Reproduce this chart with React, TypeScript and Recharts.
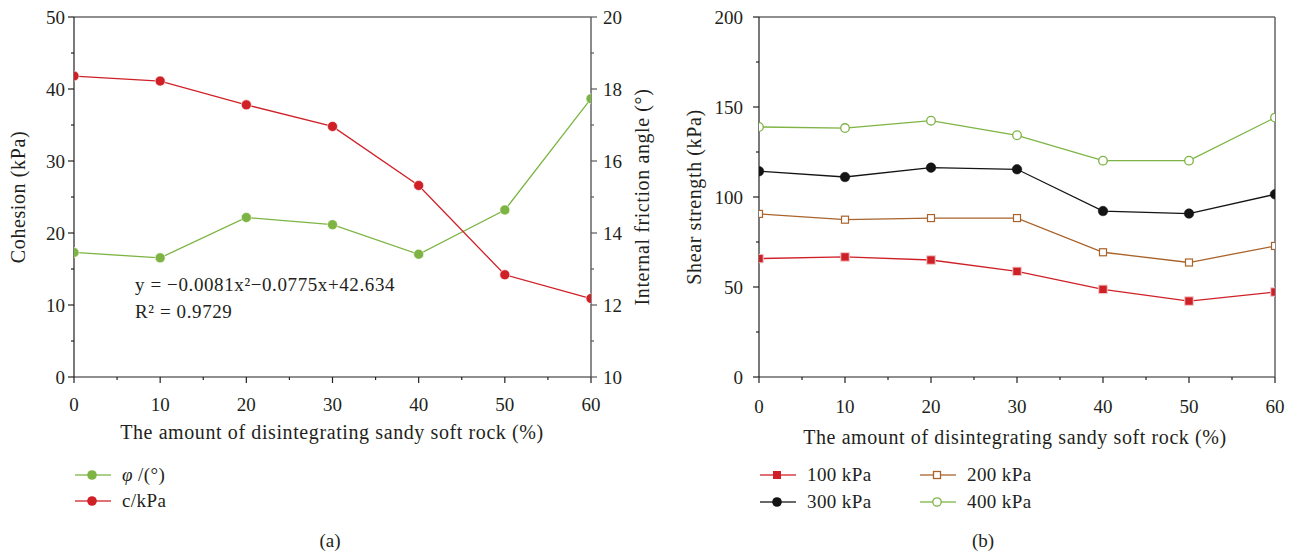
import type { ReactNode } from "react";
import { LineChart, Line, XAxis, YAxis } from "recharts";

// x values: amount of disintegrating sandy soft rock (%)
const AMOUNT = [0, 10, 20, 30, 40, 50, 60];

// (a) cohesion (kPa) and internal friction angle (°)
const COHESION = [41.8, 41.1, 37.8, 34.8, 26.6, 14.2, 10.9];
const FRICTION = [13.46, 13.31, 14.43, 14.23, 13.41, 14.64, 17.73];

// (b) shear strength (kPa) under four normal stresses
const S100 = [65.8, 66.7, 65.0, 58.7, 48.7, 42.2, 47.2];
const S200 = [90.6, 87.4, 88.3, 88.3, 69.3, 63.6, 72.8];
const S300 = [114.3, 111.1, 116.3, 115.4, 92.2, 90.8, 101.5];
const S400 = [138.9, 138.3, 142.4, 134.3, 120.2, 120.2, 144.1];

// ticks (majors get labels, minors only a short line)
const X_TICKS = [0, 5, 10, 15, 20, 25, 30, 35, 40, 45, 50, 55, 60];
const COHESION_TICKS = [0, 5, 10, 15, 20, 25, 30, 35, 40, 45, 50];
const FRICTION_TICKS = [10, 11, 12, 13, 14, 15, 16, 17, 18, 19, 20];
const SHEAR_TICKS = [0, 25, 50, 75, 100, 125, 150, 175, 200];

const FONT = "Liberation Serif, Times New Roman, DejaVu Serif, serif";
const INK = "#231f20";
const GRAY = "#58595b";
const RED = "#cf2027";
const GREEN = "#7db443";
const BROWN = "#a9632b";
const BLACK = "#141414";

// plot areas (chart-relative), used to clip markers at the frame like the original
const CLIP_A = { x: 74, y: 17, w: 517, h: 360 };
const CLIP_B = { x: 79, y: 17, w: 516, h: 360 };

const leftData = AMOUNT.map((x, i) => ({ x, c: COHESION[i], phi: FRICTION[i] }));
const rightData = AMOUNT.map((x, i) => ({
  x,
  p100: S100[i],
  p200: S200[i],
  p300: S300[i],
  p400: S400[i],
}));

type TickProps = {
  x?: number;
  y?: number;
  payload?: { value: number };
  every: number;
  gap: number;
  color?: string;
};

function BottomTick({ x = 0, y = 0, payload, every, gap, color = INK }: TickProps) {
  const v = payload?.value ?? 0;
  const major = v % every === 0;
  return (
    <g>
      <line x1={x} x2={x} y1={y} y2={y + (major ? 6 : 3)} stroke={color} strokeWidth={1.2} />
      {major && (
        <text x={x} y={y + gap} textAnchor="middle" dominantBaseline="central" fontFamily={FONT} fontSize={19} fill={INK}>
          {v}
        </text>
      )}
    </g>
  );
}

function LeftTick({ x = 0, y = 0, payload, every, gap, color = INK }: TickProps) {
  const v = payload?.value ?? 0;
  const major = v % every === 0;
  return (
    <g>
      <line x1={x - (major ? 6 : 3)} x2={x} y1={y} y2={y} stroke={color} strokeWidth={1.2} />
      {major && (
        <text x={x - gap} y={y} textAnchor="end" dominantBaseline="central" fontFamily={FONT} fontSize={19} fill={INK}>
          {v}
        </text>
      )}
    </g>
  );
}

function RightTick({ x = 0, y = 0, payload, every, gap, color = GRAY }: TickProps) {
  const v = payload?.value ?? 0;
  const major = v % every === 0;
  return (
    <g>
      <line x1={x} x2={x + (major ? 6 : 3)} y1={y} y2={y} stroke={color} strokeWidth={1.2} />
      {major && (
        <text x={x + gap} y={y} textAnchor="start" dominantBaseline="central" fontFamily={FONT} fontSize={19} fill={INK}>
          {v}
        </text>
      )}
    </g>
  );
}

function AxisTitle({ tx, ty, rot = 0, text }: { tx: number; ty: number; rot?: number; text: string }) {
  return (
    <text
      x={tx}
      y={ty}
      transform={rot ? `rotate(${rot}, ${tx}, ${ty})` : undefined}
      textAnchor="middle"
      dominantBaseline="central"
      fontFamily={FONT}
      fontSize={20}
      letterSpacing={0.6}
      fill={INK}
    >
      {text}
    </text>
  );
}

function Equation() {
  return (
    <g fontFamily={FONT} fontSize={19} fill={INK} letterSpacing={0.6}>
      <text x={135} y={284} dominantBaseline="central">y = −0.0081x²−0.0775x+42.634</text>
      <text x={135} y={311} dominantBaseline="central">R² = 0.9729</text>
    </g>
  );
}

function ClippedDot(props: any) {
  const { cx, cy, index, fill, stroke, sw = 1, shape, size, clip, cid } = props;
  if (cx == null || cy == null) return null;
  const id = `${cid}-${index}`;
  return (
    <g key={id}>
      <defs>
        <clipPath id={id}>
          <rect x={clip.x} y={clip.y} width={clip.w} height={clip.h} />
        </clipPath>
      </defs>
      {shape === "square" ? (
        <rect
          clipPath={`url(#${id})`}
          x={cx - size / 2}
          y={cy - size / 2}
          width={size}
          height={size}
          fill={fill}
          stroke={stroke}
          strokeWidth={sw}
        />
      ) : (
        <circle clipPath={`url(#${id})`} cx={cx} cy={cy} r={size / 2} fill={fill} stroke={stroke} strokeWidth={sw} />
      )}
    </g>
  );
}

function LegendRow({ left, top, color, marker, label }: { left: number; top: number; color: string; marker: string; label: ReactNode }) {
  return (
    <div style={{ position: "absolute", left, top: top - 11, height: 22, display: "flex", alignItems: "center" }}>
      <svg width={36} height={14} style={{ display: "block", marginRight: 11 }}>
        <line x1={0} x2={36} y1={7} y2={7} stroke={color} strokeWidth={1.3} opacity={0.85} />
        {marker === "dot" && <circle cx={17} cy={7} r={4.8} fill={color} />}
        {marker === "circle" && <circle cx={17} cy={7} r={4.2} fill="#fff" stroke={color} strokeWidth={1.3} />}
        {marker === "square" && <rect x={13} y={3} width={8} height={8} fill={color} />}
        {marker === "open-square" && <rect x={13.5} y={3.5} width={7} height={7} fill="#fff" stroke={color} strokeWidth={1.3} />}
      </svg>
      <span style={{ fontFamily: FONT, fontSize: 19, color: INK, whiteSpace: "nowrap", letterSpacing: 0.4 }}>{label}</span>
    </div>
  );
}

export default function App() {
  return (
    <div style={{ position: "absolute", left: 0, top: 0, width: 1298, height: 559, background: "#fff", fontFamily: FONT }}>
      {/* (a) cohesion and internal friction angle */}
      <div style={{ position: "absolute", left: 0, top: 0 }}>
        <LineChart width={680} height={450} data={leftData} margin={{ top: 0, right: 0, bottom: 0, left: 0 }}>
          <XAxis
            dataKey="x"
            type="number"
            domain={[0, 60]}
            ticks={X_TICKS}
            interval={0}
            height={73}
            stroke={INK}
            strokeWidth={1.2}
            tickLine={false}
            tickSize={0}
            tickMargin={0}
            tick={<BottomTick every={10} gap={27} />}
            label={<AxisTitle tx={332} ty={432} text="The amount of disintegrating sandy soft rock (%)" />}
          />
          <XAxis
            xAxisId="top"
            dataKey="x"
            type="number"
            domain={[0, 60]}
            orientation="top"
            height={17}
            stroke={INK}
            strokeWidth={1.2}
            tick={false}
            tickLine={false}
            label={<Equation />}
          />
          <YAxis
            yAxisId="l"
            domain={[0, 50]}
            ticks={COHESION_TICKS}
            interval={0}
            width={74}
            stroke={INK}
            strokeWidth={1.2}
            tickLine={false}
            tickSize={0}
            tickMargin={0}
            tick={<LeftTick every={10} gap={9} />}
            label={<AxisTitle tx={18} ty={197} rot={-90} text="Cohesion (kPa)" />}
          />
          <YAxis
            yAxisId="r"
            orientation="right"
            domain={[10, 20]}
            ticks={FRICTION_TICKS}
            interval={0}
            width={89}
            stroke={GRAY}
            strokeWidth={1.4}
            tickLine={false}
            tickSize={0}
            tickMargin={0}
            tick={<RightTick every={2} gap={12} />}
            label={<AxisTitle tx={642} ty={197} rot={-90} text="Internal friction angle (°)" />}
          />
          <Line
            yAxisId="r"
            dataKey="phi"
            stroke={GREEN}
            strokeWidth={1.3}
            dot={(p: any) => <ClippedDot {...p} key={`g-${p.index}`} cid="ag" clip={CLIP_A} shape="circle" size={10} fill={GREEN} stroke="#fff" sw={0.6} />}
            isAnimationActive={false}
          />
          <Line
            yAxisId="l"
            dataKey="c"
            stroke={RED}
            strokeWidth={1.3}
            dot={(p: any) => <ClippedDot {...p} key={`r-${p.index}`} cid="ar" clip={CLIP_A} shape="circle" size={10} fill={RED} stroke="#fff" sw={0.6} />}
            isAnimationActive={false}
          />
        </LineChart>
      </div>

      {/* (b) shear strength */}
      <div style={{ position: "absolute", left: 680, top: 0 }}>
        <LineChart width={618} height={450} data={rightData} margin={{ top: 0, right: 0, bottom: 0, left: 0 }}>
          <XAxis
            dataKey="x"
            type="number"
            domain={[0, 60]}
            ticks={X_TICKS}
            interval={0}
            height={73}
            stroke={INK}
            strokeWidth={1.2}
            tickLine={false}
            tickSize={0}
            tickMargin={0}
            tick={<BottomTick every={10} gap={29} />}
            label={<AxisTitle tx={335} ty={437} text="The amount of disintegrating sandy soft rock (%)" />}
          />
          <XAxis
            xAxisId="top"
            dataKey="x"
            type="number"
            domain={[0, 60]}
            orientation="top"
            height={17}
            stroke={INK}
            strokeWidth={1.2}
            tick={false}
            tickLine={false}
          />
          <YAxis
            domain={[0, 200]}
            ticks={SHEAR_TICKS}
            interval={0}
            width={79}
            stroke={INK}
            strokeWidth={1.2}
            tickLine={false}
            tickSize={0}
            tickMargin={0}
            tick={<LeftTick every={50} gap={16} />}
            label={<AxisTitle tx={14} ty={197} rot={-90} text="Shear strength (kPa)" />}
          />
          <YAxis
            yAxisId="frame"
            orientation="right"
            domain={[0, 200]}
            width={23}
            stroke={GRAY}
            strokeWidth={1.4}
            tick={false}
            tickLine={false}
          />
          <Line
            dataKey="p400"
            stroke={GREEN}
            strokeWidth={1.3}
            dot={(p: any) => <ClippedDot {...p} key={`g4-${p.index}`} cid="b4" clip={CLIP_B} shape="circle" size={8.6} fill="#fff" stroke={GREEN} sw={1.3} />}
            isAnimationActive={false}
          />
          <Line
            dataKey="p300"
            stroke={BLACK}
            strokeWidth={1.3}
            dot={(p: any) => <ClippedDot {...p} key={`k3-${p.index}`} cid="b3" clip={CLIP_B} shape="circle" size={9.6} fill={BLACK} stroke={BLACK} sw={0.5} />}
            isAnimationActive={false}
          />
          <Line
            dataKey="p200"
            stroke={BROWN}
            strokeWidth={1.3}
            dot={(p: any) => <ClippedDot {...p} key={`b2-${p.index}`} cid="b2" clip={CLIP_B} shape="square" size={7} fill="#fff" stroke={BROWN} sw={1.2} />}
            isAnimationActive={false}
          />
          <Line
            dataKey="p100"
            stroke={RED}
            strokeWidth={1.3}
            dot={(p: any) => <ClippedDot {...p} key={`r1-${p.index}`} cid="b1" clip={CLIP_B} shape="square" size={8.5} fill={RED} stroke="#f3c9c9" sw={1} />}
            isAnimationActive={false}
          />
        </LineChart>
      </div>

      {/* legends */}
      <LegendRow left={75} top={475} color={GREEN} marker="dot" label={<><i>φ</i> /(°)</>} />
      <LegendRow left={75} top={501} color={RED} marker="dot" label="c/kPa" />
      <LegendRow left={760} top={475} color={RED} marker="square" label="100 kPa" />
      <LegendRow left={760} top={502} color={BLACK} marker="dot" label="300 kPa" />
      <LegendRow left={920} top={475} color={BROWN} marker="open-square" label="200 kPa" />
      <LegendRow left={920} top={502} color={GREEN} marker="circle" label="400 kPa" />

      {/* panel captions */}
      <div style={{ position: "absolute", left: 310, top: 530, width: 40, textAlign: "center", fontFamily: FONT, fontSize: 19, color: INK }}>(a)</div>
      <div style={{ position: "absolute", left: 963, top: 530, width: 40, textAlign: "center", fontFamily: FONT, fontSize: 19, color: INK }}>(b)</div>
    </div>
  );
}
